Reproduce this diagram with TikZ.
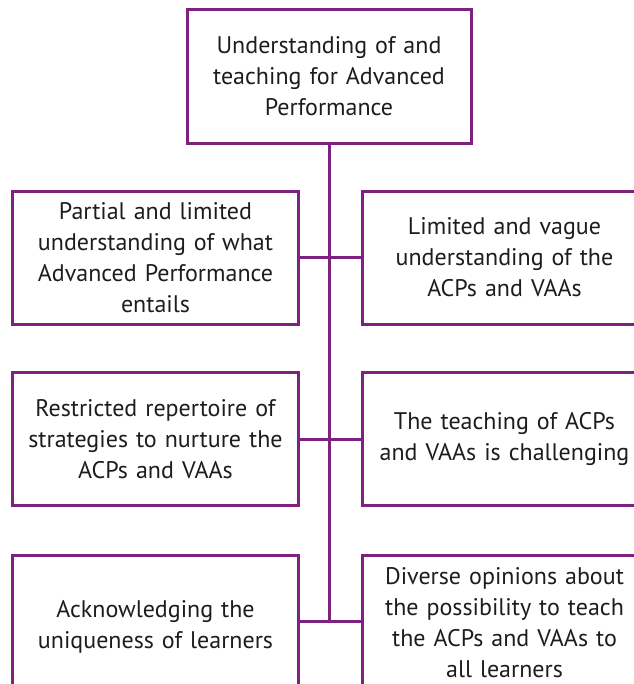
\documentclass[tikz,border=0pt]{standalone}
\usepackage{fontspec}
\setmainfont{PT Sans}
\definecolor{pur}{RGB}{126,34,130}
\definecolor{ink}{RGB}{30,28,30}
\begin{document}
\begin{tikzpicture}[x=1bp,y=-1bp,
  box/.style={draw=pur, line width=3bp, minimum width=285bp, minimum height=133bp,
    text width=280bp, align=center, inner sep=0pt, text=ink,
    font=\fontsize{24bp}{31bp}\selectfont},
  conn/.style={draw=pur, line width=3bp}]
\useasboundingbox (0,0) rectangle (634,684);
\clip (0,0) rectangle (634,684);
\node[box, minimum width=284bp] (top) at (329,76.5) {Understanding of and\\teaching for Advanced\\Performance};
\node[box] (l1) at (155.5,257.5) {Partial and limited\\understanding of what\\Advanced Performance\\entails};
\node[box] (r1) at (504.5,257.5) {Limited and vague\\understanding of the\\ACPs and VAAs};
\node[box] (l2) at (155.5,439) {Restricted repertoire of\\strategies to nurture the\\ACPs and VAAs};
\node[box] (r2) at (504.5,439) {The teaching of ACPs\\and VAAs is challenging};
\node[box, minimum height=144bp] (l3) at (155.5,627) {Acknowledging the\\uniqueness of learners};
\node[box, minimum height=136bp] (r3) at (504.5,623) {Diverse opinions about\\the possibility to teach\\the ACPs and VAAs to\\all learners};
\coordinate (j3) at (329,621);
\draw[conn] (top.south) -- (j3);
\draw[conn] (l1.east) -- (r1.west);
\draw[conn] (l2.east) -- (r2.west);
\draw[conn] (l3.east |- j3) -- (r3.west |- j3);
\end{tikzpicture}
\end{document}
